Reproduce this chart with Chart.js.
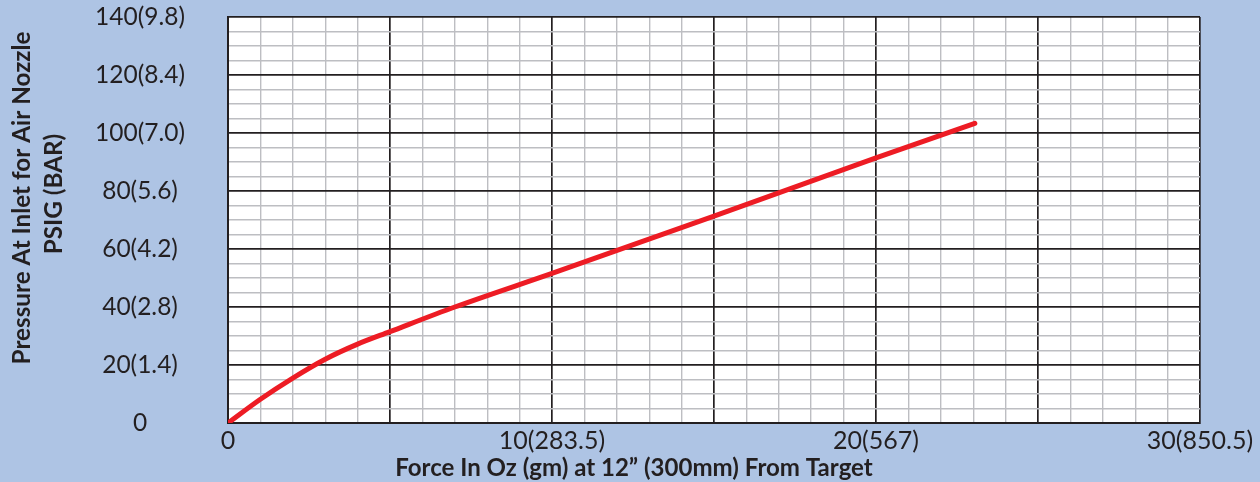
<!DOCTYPE html>
<html><head><meta charset="utf-8">
<script src="https://cdn.jsdelivr.net/npm/chart.js@4/dist/chart.umd.min.js"></script>
<style>html,body{margin:0;padding:0;background:#aec4e4;}canvas{display:block}</style>
</head><body>
<canvas id="c" width="1260" height="482"></canvas>
<script>
const forceOz = [0, 1, 2, 3, 4, 5, 7, 10, 15, 20, 23.05];
const pressurePsig = [0, 8.2, 15.5, 22.0, 27.2, 31.5, 40.0, 51.6, 71.3, 91.4, 103.3];
const xTickValues = [0, 10, 20, 30];
const xTickLabels = ['0', '10(283.5)', '20(567)', '30(850.5)'];
const yTickValues = [0, 20, 40, 60, 80, 100, 120, 140];
const yTickLabels = ['0', '20(1.4)', '40(2.8)', '60(4.2)', '80(5.6)', '100(7.0)', '120(8.4)', '140(9.8)'];
const yTitleLines = ['Pressure At Inlet for Air Nozzle', 'PSIG (BAR)'];
const xTitle = 'Force In Oz (gm) at 12\u201D (300mm) From Target';

const TEXT = '#231f20';
const MAJOR = '#231f20';
const MINOR = '#bdbec2';

const plotBg = {
  id: 'plotBg',
  beforeDraw(chart) {
    const {ctx, chartArea: a} = chart;
    ctx.save();
    ctx.fillStyle = '#ffffff';
    ctx.fillRect(a.left, a.top, a.right - a.left, a.bottom - a.top);
    ctx.restore();
  }
};

function fitFont(ctx, text, target, base) {
  ctx.font = 'bold ' + base + 'px Lato';
  const w = ctx.measureText(text).width;
  return base * target / w;
}

const axisTitles = {
  id: 'axisTitles',
  afterDraw(chart) {
    const ctx = chart.ctx;
    ctx.save();
    ctx.fillStyle = TEXT;
    ctx.textAlign = 'center';
    ctx.textBaseline = 'alphabetic';
    const ys = fitFont(ctx, yTitleLines[0], 333, 22);
    ctx.font = 'bold ' + ys + 'px Lato';
    ctx.save(); ctx.translate(29.5, 198); ctx.rotate(-Math.PI / 2); ctx.fillText(yTitleLines[0], 0, 0); ctx.restore();
    ctx.save(); ctx.translate(61.5, 194); ctx.rotate(-Math.PI / 2); ctx.fillText(yTitleLines[1], 0, 0); ctx.restore();
    const xs = fitFont(ctx, xTitle, 478, 22);
    ctx.font = 'bold ' + xs + 'px Lato';
    ctx.fillText(xTitle, 634, 476);
    ctx.restore();
  }
};

new Chart(document.getElementById('c'), {
  type: 'scatter',
  data: {
    datasets: [{
      data: forceOz.map((x, i) => ({x, y: pressurePsig[i]})),
      showLine: true,
      borderColor: '#ed1c24',
      backgroundColor: '#ed1c24',
      borderWidth: 5,
      borderCapStyle: 'round',
      borderJoinStyle: 'round',
      pointRadius: 0,
      cubicInterpolationMode: 'monotone'
    }]
  },
  options: {
    responsive: false,
    animation: false,
    layout: {padding: {left: 0, top: 17, right: 60, bottom: 0}},
    plugins: {legend: {display: false}, tooltip: {enabled: false}},
    scales: {
      x: {
        type: 'linear', min: 0, max: 30,
        afterFit(s) { s.height = 59; s.paddingLeft = 0; s.paddingRight = 0; },
        afterBuildTicks(s) { s.ticks = Array.from({length: 31}, (_, i) => ({value: i})); },
        ticks: {
          autoSkip: false, maxRotation: 0, padding: 3, color: TEXT,
          font: {family: 'Lato', size: 25},
          callback(v) { const k = xTickValues.indexOf(v); return k >= 0 ? xTickLabels[k] : ''; }
        },
        grid: {
          drawTicks: false,
          color: c => (c.tick && c.tick.value % 5 === 0) ? MAJOR : MINOR,
          lineWidth: c => (c.tick && c.tick.value % 5 === 0) ? 1.7 : 1.4
        },
        border: {display: true, color: MAJOR, width: 2}
      },
      y: {
        type: 'linear', min: 0, max: 140,
        afterFit(s) { s.width = 228; s.paddingTop = 0; s.paddingBottom = 0; },
        afterBuildTicks(s) { s.ticks = Array.from({length: 29}, (_, i) => ({value: i * 5})); },
        ticks: {
          autoSkip: false, padding: 43, crossAlign: 'center', color: TEXT,
          font: {family: 'Lato', size: 24.5},
          callback(v) { const k = yTickValues.indexOf(v); return k >= 0 ? yTickLabels[k] : ''; }
        },
        grid: {
          drawTicks: false,
          color: c => (c.tick && c.tick.value % 20 === 0) ? MAJOR : MINOR,
          lineWidth: c => (c.tick && c.tick.value % 20 === 0) ? 1.7 : 1.4
        },
        border: {display: true, color: MAJOR, width: 2}
      }
    }
  },
  plugins: [plotBg, axisTitles]
});
</script>
</body></html>
